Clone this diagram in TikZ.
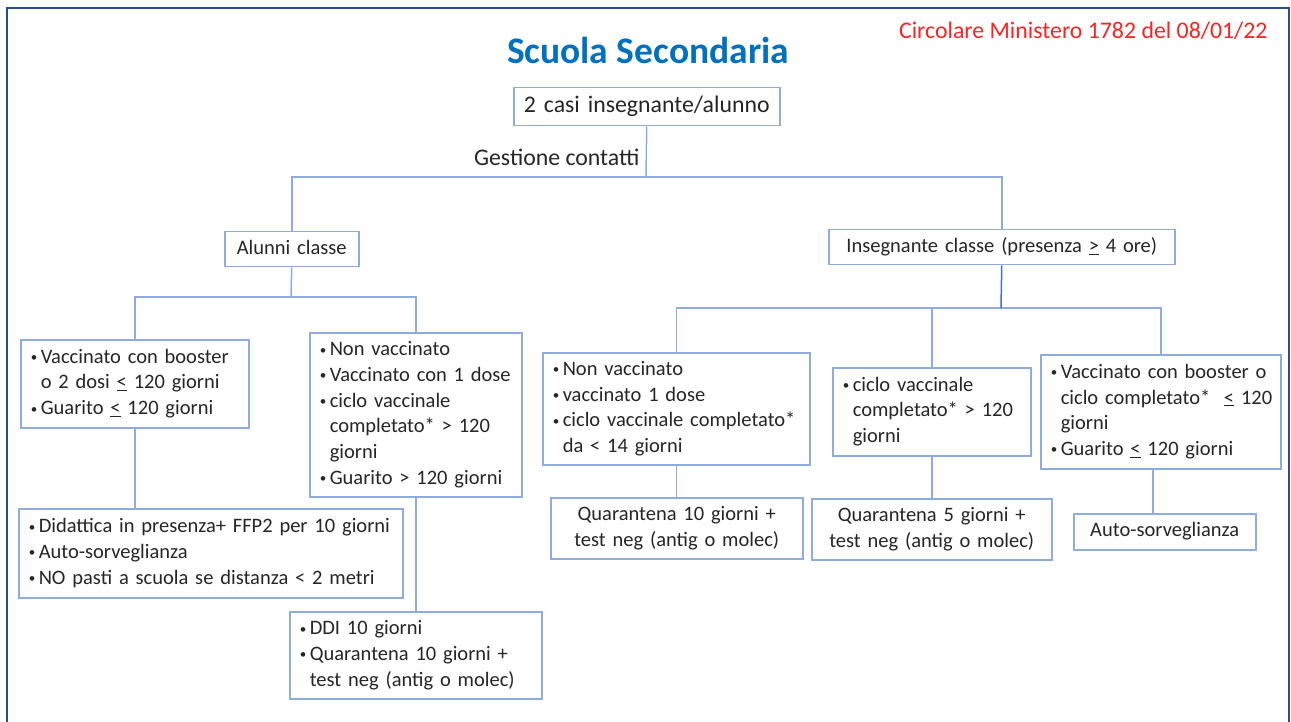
\documentclass[tikz,border=0pt]{standalone}
\usepackage{fontspec}
\setmainfont{Carlito}
\definecolor{frameblue}{RGB}{41,80,140}
\definecolor{boxblue}{RGB}{143,172,222}
\definecolor{darkline}{RGB}{70,110,185}
\definecolor{titleblue}{RGB}{0,112,192}
\definecolor{redtxt}{RGB}{250,35,35}
\definecolor{txt}{RGB}{38,38,38}
\newcommand\bul{\makebox[10pt][l]{\raisebox{1.5pt}{\fontsize{13}{13}\selectfont •}}}
\newcommand\ind{\hspace*{10pt}}
\newenvironment{lines}{\begin{tabular}{@{}l@{}}}{\end{tabular}}
\newenvironment{clines}{\begin{tabular}{@{}c@{}}}{\end{tabular}}
\tikzset{
  body/.style={font=\fontsize{20.5}{25.7}\selectfont, text=txt},
  box/.style={draw=boxblue, line width=1.5pt, fill=white, body, inner ysep=0pt, inner xsep=10pt},
  listbox/.style={box, align=left, anchor=north west},
  cbox/.style={box, align=center, anchor=north west},
  conn/.style={draw=boxblue, line width=1.5pt},
  frame/.style={draw=frameblue, line width=2.5pt}
}
\begin{document}
\begin{tikzpicture}[x=1pt, y=-1pt]
\useasboundingbox (0,0) rectangle (1291,722);
\draw[frame] (7,730) -- (7,8) -- (1289,8) -- (1289,730);

\node[anchor=base, font=\bfseries\fontsize{37.5}{44}\selectfont, text=titleblue] (title) at (648,64) {Scuola Secondaria};
\node[anchor=base east, font=\fontsize{23.8}{28}\selectfont, text=redtxt] (circ) at (1271,39) {Circolare Ministero 1782 del 08/01/22};

% boxes
\node[cbox, minimum width=266pt, minimum height=38pt, text width=246pt, font=\fontsize{23.8}{28}\selectfont] (root) at (513,87) {\begin{clines}2 casi insegnante/alunno\end{clines}};
\node[anchor=base east, text=txt, font=\fontsize{23.8}{28}\selectfont] (gest) at (643,166) {Gestione contatti};

\node[cbox, minimum width=134pt, minimum height=35pt, text width=114pt] (alunni) at (224,231) {\begin{clines}Alunni classe\end{clines}};
\node[cbox, minimum width=346pt, minimum height=35pt, text width=326pt] (ins) at (828,229) {\begin{clines}Insegnante classe (presenza \underline{>} 4 ore)\end{clines}};

\node[listbox, minimum width=228pt, minimum height=88pt, text width=208pt] (a1) at (20,339)
 {\begin{lines}\bul Vaccinato con booster\\ \ind o 2 dosi \underline{<} 120 giorni\\ \bul Guarito \underline{<} 120 giorni\end{lines}};
\node[listbox, minimum width=212pt, minimum height=164pt, text width=192pt] (a2) at (309,332)
 {\begin{lines}\bul Non vaccinato\\ \bul Vaccinato con 1 dose\\ \bul ciclo vaccinale\\ \ind completato* > 120\\ \ind giorni\\ \bul Guarito > 120 giorni\end{lines}};
\node[listbox, minimum width=384pt, minimum height=89pt, text width=364pt] (r1) at (18,508)
 {\begin{lines}\bul Didattica in presenza+ FFP2 per 10 giorni\\ \bul Auto-sorveglianza\\ \bul NO pasti a scuola se distanza < 2 metri\end{lines}};
\node[listbox, minimum width=252pt, minimum height=87pt, text width=232pt] (r2) at (289,611)
 {\begin{lines}\bul DDI 10 giorni\\ \bul Quarantena 10 giorni +\\ \ind test neg (antig o molec)\end{lines}};

\node[listbox, minimum width=267pt, minimum height=112pt, text width=247pt] (b1) at (542,352)
 {\begin{lines}\bul Non vaccinato\\ \bul vaccinato 1 dose\\ \bul ciclo vaccinale completato*\\ \ind da < 14 giorni\end{lines}};
\node[listbox, minimum width=198pt, minimum height=88pt, text width=178pt] (b2) at (832,367)
 {\begin{lines}\bul ciclo vaccinale\\ \ind completato* > 120\\ \ind giorni\end{lines}};
\node[listbox, minimum width=240pt, minimum height=114pt, text width=220pt] (b3) at (1040,354)
 {\begin{lines}\bul Vaccinato con booster o\\ \ind ciclo completato*\ \ \underline{<} 120\\ \ind giorni\\ \bul Guarito \underline{<} 120 giorni\end{lines}};

\node[cbox, minimum width=252pt, minimum height=61pt, text width=232pt] (q1) at (550,497)
 {\begin{clines}Quarantena 10 giorni +\\ test neg (antig o molec)\end{clines}};
\node[cbox, minimum width=240pt, minimum height=61pt, text width=220pt] (q2) at (811,498)
 {\begin{clines}Quarantena 5 giorni +\\ test neg (antig o molec)\end{clines}};
\node[cbox, minimum width=182pt, minimum height=36pt, text width=162pt] (as) at (1073,513)
 {\begin{clines}Auto-sorveglianza\end{clines}};

% connectors
\coordinate (j0) at (646,177);
\coordinate (j1) at (291,297);
\coordinate (j2) at (1001,308);
\draw[conn] (root.south) -- (j0);
\draw[conn] (alunni.north) |- (j0) -| (ins.north);
\draw[conn] (alunni.south) -- (j1);
\draw[conn] (a1.north) |- (j1) -| (a2.north);
\draw[conn] (a1.south) -- (a1.south |- r1.north);
\draw[conn] (a2.south) -- (a2.south |- r2.north);
\draw[conn] (b1.north) |- (j2) -| (b3.north);
\draw[conn] (b2.north) -- (b2.north |- j2);
\draw[draw=darkline, line width=1.5pt] (ins.south) -- (j2);
\draw[conn] (b1.south) -- (b1.south |- q1.north);
\draw[conn] (b2.south) -- (b2.south |- q2.north);
\path (b3.south) ++(-8,0) coordinate (c3);
\draw[conn] (c3) -- (c3 |- as.north);
\end{tikzpicture}
\end{document}
